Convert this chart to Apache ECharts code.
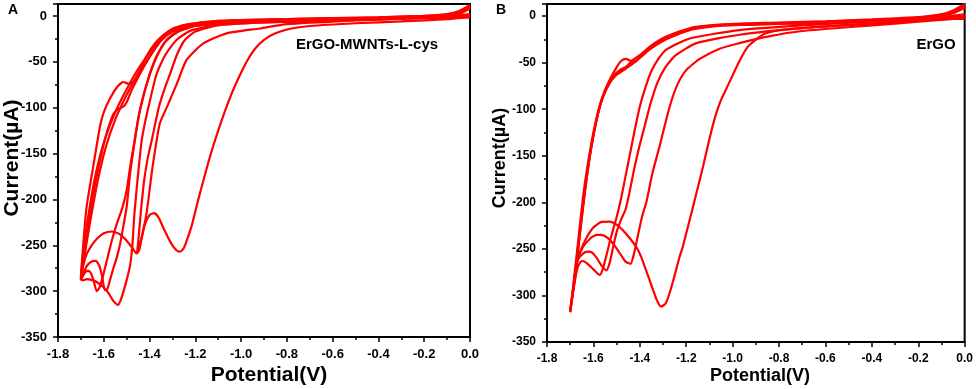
<!DOCTYPE html>
<html>
<head>
<meta charset="utf-8">
<script src="https://cdn.jsdelivr.net/npm/echarts@6/dist/echarts.min.js"></script>
<style>
  html, body { margin: 0; padding: 0; background: #fff; }
  #chart { width: 976px; height: 389px; }
</style>
</head>
<body>
<div id="chart"></div>
<script>
// potential (V), current (uA) pairs, one array per scan
var aCycle1 = [
  [0, 12], [-0.05, 5], [-0.1, 2], [-0.2, 0], [-0.4, -1.5], [-0.6, -2.5], [-0.8, -3.5], [-1.0, -4.5],
  [-1.1, -5.5], [-1.2, -8], [-1.25, -10], [-1.3, -14], [-1.34, -21], [-1.38, -31], [-1.42, -47],
  [-1.45, -63], [-1.47, -72], [-1.49, -74], [-1.515, -72], [-1.54, -77], [-1.573, -90], [-1.6, -105],
  [-1.617, -121], [-1.646, -164], [-1.675, -208], [-1.69, -250], [-1.7, -285],
  [-1.69, -272], [-1.675, -260], [-1.655, -251], [-1.63, -243], [-1.6, -237], [-1.565, -235],
  [-1.53, -238], [-1.5, -245], [-1.475, -253], [-1.456, -259], [-1.445, -255], [-1.435, -243],
  [-1.42, -227], [-1.4, -217], [-1.38, -215], [-1.36, -220], [-1.34, -231], [-1.31, -246],
  [-1.285, -255], [-1.267, -257], [-1.25, -253], [-1.235, -243], [-1.215, -228], [-1.187, -200],
  [-1.16, -175], [-1.132, -150], [-1.1, -125], [-1.065, -100], [-1.03, -78], [-0.976, -50],
  [-0.94, -36], [-0.9, -26], [-0.85, -19], [-0.786, -14], [-0.7, -11], [-0.5, -8], [-0.3, -6],
  [-0.1, -3.5], [-0.02, -2], [0, -2]
];
var aCycle2 = [
  [0, 10], [-0.05, 4], [-0.1, 1], [-0.2, -0.5], [-0.4, -2], [-0.6, -3], [-0.8, -4], [-1.0, -5],
  [-1.1, -6], [-1.2, -9], [-1.25, -12], [-1.3, -17], [-1.35, -27], [-1.4, -45], [-1.45, -67],
  [-1.48, -82], [-1.5, -94], [-1.515, -99], [-1.54, -102], [-1.56, -108], [-1.58, -122], [-1.6, -140],
  [-1.625, -168], [-1.65, -200], [-1.67, -235], [-1.688, -265], [-1.7, -288],
  [-1.69, -282], [-1.675, -273], [-1.655, -268], [-1.635, -267], [-1.62, -272], [-1.608, -283],
  [-1.595, -299], [-1.585, -298], [-1.573, -288], [-1.558, -275], [-1.544, -264], [-1.53, -250],
  [-1.515, -230], [-1.5, -208], [-1.485, -172], [-1.464, -135], [-1.44, -100], [-1.398, -63],
  [-1.36, -40], [-1.325, -26], [-1.28, -17], [-1.2, -11], [-1.0, -7], [-0.7, -5], [-0.4, -3],
  [-0.1, -1.5], [0, 0]
];
var aCycle3 = [
  [0, 9], [-0.05, 3], [-0.1, 0.5], [-0.2, -1], [-0.4, -2.5], [-0.6, -3.5], [-0.8, -4.5], [-1.0, -5.5],
  [-1.1, -6.5], [-1.2, -9], [-1.25, -11], [-1.3, -16], [-1.35, -26], [-1.4, -44], [-1.45, -63],
  [-1.5, -86], [-1.55, -113], [-1.59, -142], [-1.625, -178], [-1.655, -218], [-1.68, -255], [-1.7, -287],
  [-1.69, -283], [-1.68, -279], [-1.667, -278], [-1.655, -281], [-1.643, -290], [-1.631, -300],
  [-1.62, -297], [-1.605, -285], [-1.585, -265], [-1.565, -245], [-1.545, -228], [-1.52, -210],
  [-1.5, -190], [-1.482, -160], [-1.468, -140], [-1.448, -110], [-1.41, -72], [-1.37, -44],
  [-1.33, -28], [-1.28, -18], [-1.2, -11], [-1.0, -7], [-0.7, -5], [-0.4, -3], [-0.1, -1.5], [0, 1]
];
var aCycle4 = [
  [0, 11], [-0.05, 4], [-0.1, 1.5], [-0.2, 0], [-0.4, -1.5], [-0.6, -2.5], [-0.8, -3.5], [-1.0, -4.5],
  [-1.1, -5.5], [-1.2, -8], [-1.25, -10], [-1.3, -15], [-1.35, -24], [-1.4, -40], [-1.45, -58],
  [-1.5, -80], [-1.55, -105], [-1.6, -138], [-1.64, -178], [-1.67, -222], [-1.69, -258], [-1.7, -287],
  [-1.69, -288], [-1.675, -287], [-1.65, -288], [-1.631, -290], [-1.6, -296], [-1.58, -302],
  [-1.56, -310], [-1.545, -314], [-1.537, -315], [-1.525, -309], [-1.51, -297], [-1.497, -285],
  [-1.485, -272], [-1.475, -250], [-1.47, -230], [-1.466, -215], [-1.455, -185], [-1.445, -160],
  [-1.434, -135], [-1.41, -105], [-1.369, -63], [-1.33, -42], [-1.281, -26], [-1.22, -16],
  [-1.1, -10], [-0.9, -7], [-0.6, -5], [-0.3, -3], [-0.1, -1], [0, 1]
];
var aCycle5 = [
  [0, 8], [-0.05, 2], [-0.2, -2], [-0.5, -5], [-0.8, -9], [-0.918, -13.7], [-1.063, -19],
  [-1.165, -30], [-1.238, -48], [-1.281, -74], [-1.32, -97], [-1.355, -117], [-1.375, -145],
  [-1.391, -172], [-1.405, -200], [-1.415, -218], [-1.43, -236], [-1.445, -252], [-1.455, -259],
  [-1.449, -245], [-1.442, -225], [-1.436, -208], [-1.424, -180], [-1.408, -155], [-1.39, -135],
  [-1.36, -100], [-1.335, -80], [-1.31, -63], [-1.28, -42], [-1.245, -26], [-1.2, -17], [-1.1, -10],
  [-0.9, -7], [-0.6, -5], [-0.3, -3], [-0.1, -1], [0, 2]
];

var bCycle1 = [
  [0, 13], [-0.05, 6], [-0.1, 2], [-0.2, -1], [-0.4, -3.5], [-0.6, -5.5], [-0.8, -7], [-0.97, -8],
  [-1.1, -10], [-1.185, -13], [-1.286, -22], [-1.358, -33], [-1.4, -43], [-1.417, -49], [-1.44, -48],
  [-1.46, -46], [-1.48, -48], [-1.5, -55], [-1.525, -66], [-1.55, -80], [-1.575, -98], [-1.6, -125],
  [-1.625, -160], [-1.645, -195], [-1.665, -240], [-1.685, -285], [-1.7, -318],
  [-1.69, -300], [-1.68, -282], [-1.673, -268], [-1.655, -252], [-1.63, -238], [-1.6, -227],
  [-1.565, -221], [-1.53, -220.7], [-1.5, -224], [-1.473, -230], [-1.445, -238], [-1.415, -248],
  [-1.395, -258], [-1.379, -269], [-1.36, -282], [-1.343, -294], [-1.325, -306], [-1.308, -312],
  [-1.29, -309], [-1.279, -303], [-1.257, -285], [-1.228, -258], [-1.214, -247], [-1.171, -205],
  [-1.128, -162], [-1.1, -132], [-1.075, -108], [-1.05, -90], [-1.027, -78], [-0.97, -48],
  [-0.935, -33], [-0.898, -25], [-0.863, -19], [-0.8, -15], [-0.6, -11], [-0.4, -8], [-0.2, -5],
  [-0.05, -3], [0, -3]
];
var bCycle2 = [
  [0, 11], [-0.05, 5], [-0.1, 1.5], [-0.2, -1.5], [-0.4, -4], [-0.6, -6], [-0.8, -7.5], [-0.97, -8.5],
  [-1.1, -10.5], [-1.185, -14], [-1.286, -23], [-1.358, -34], [-1.4, -42], [-1.43, -47], [-1.46, -55],
  [-1.49, -60], [-1.52, -68], [-1.545, -78], [-1.57, -95], [-1.595, -122], [-1.62, -157], [-1.64, -192],
  [-1.66, -235], [-1.68, -280], [-1.7, -317],
  [-1.69, -298], [-1.68, -278], [-1.67, -262], [-1.645, -248], [-1.61, -238], [-1.585, -235],
  [-1.566, -235], [-1.54, -238], [-1.51, -246], [-1.48, -257], [-1.46, -264], [-1.44, -266],
  [-1.425, -255], [-1.405, -232], [-1.39, -215], [-1.372, -200], [-1.345, -168], [-1.315, -140],
  [-1.29, -115], [-1.265, -92], [-1.235, -72], [-1.2, -58], [-1.142, -46], [-1.056, -35],
  [-0.97, -29], [-0.85, -22], [-0.7, -16], [-0.4, -10], [-0.2, -6], [0, -2]
];
var bCycle3 = [
  [0, 10], [-0.05, 4], [-0.1, 1], [-0.2, -2], [-0.4, -4.5], [-0.6, -6.5], [-0.8, -8], [-0.97, -9],
  [-1.1, -11], [-1.185, -14.5], [-1.286, -24], [-1.358, -35], [-1.4, -44], [-1.44, -52], [-1.48, -57],
  [-1.51, -63], [-1.54, -74], [-1.565, -90], [-1.59, -115], [-1.615, -150], [-1.638, -190],
  [-1.658, -232], [-1.68, -280], [-1.7, -316],
  [-1.69, -298], [-1.68, -278], [-1.668, -262], [-1.645, -255], [-1.625, -253], [-1.605, -254],
  [-1.585, -260], [-1.565, -268], [-1.544, -273], [-1.53, -265], [-1.515, -248], [-1.5, -232],
  [-1.48, -218], [-1.462, -208], [-1.445, -190], [-1.425, -165], [-1.402, -140], [-1.379, -118],
  [-1.355, -95], [-1.325, -72], [-1.29, -55], [-1.245, -42], [-1.156, -29], [-0.97, -20],
  [-0.7, -13], [-0.4, -8], [-0.2, -4], [0, 2]
];
var bCycle4 = [
  [0, 9], [-0.05, 3], [-0.1, 0.5], [-0.2, -2.5], [-0.4, -5], [-0.6, -7], [-0.8, -8.5], [-0.97, -9.5],
  [-1.1, -11.5], [-1.185, -15], [-1.286, -25], [-1.358, -36], [-1.4, -45], [-1.44, -53], [-1.47, -58],
  [-1.5, -63], [-1.53, -72], [-1.56, -88], [-1.585, -110], [-1.61, -142], [-1.633, -182],
  [-1.655, -228], [-1.678, -278], [-1.7, -318],
  [-1.69, -300], [-1.678, -282], [-1.668, -270], [-1.655, -264], [-1.645, -263], [-1.625, -266],
  [-1.6, -272], [-1.573, -278], [-1.56, -272], [-1.545, -258], [-1.525, -238], [-1.5, -216],
  [-1.48, -195], [-1.46, -170], [-1.44, -145], [-1.42, -120], [-1.4, -97], [-1.375, -76],
  [-1.35, -59], [-1.32, -46], [-1.286, -36], [-1.185, -24], [-0.97, -15], [-0.7, -10],
  [-0.4, -6], [-0.2, -3], [0, 0]
];

var aCycles = [aCycle1, aCycle2, aCycle3, aCycle4, aCycle5];
var bCycles = [bCycle1, bCycle2, bCycle3, bCycle4];

var FONT = '"Liberation Sans", Arial, sans-serif';
var RED = '#ff0000';

function xAxisFor(idx, fs) {
  return {
    gridIndex: idx, type: 'value', min: -1.8, max: 0, interval: 0.2,
    axisLine: { show: true, onZero: false, lineStyle: { color: '#000', width: 2 } },
    axisTick: { show: true, length: 5, lineStyle: { color: '#000', width: 1.5 } },
    minorTick: { show: true, splitNumber: 2, length: 3, lineStyle: { color: '#000', width: 1.5 } },
    splitLine: { show: false },
    axisLabel: {
      color: '#000', fontWeight: 'bold', fontSize: fs, fontFamily: FONT, margin: 11,
      formatter: function (v) { return v.toFixed(1); }
    }
  };
}
function yAxisFor(idx, fs) {
  return {
    gridIndex: idx, type: 'value', min: -350, max: 13, interval: 50,
    axisLine: { show: true, onZero: false, lineStyle: { color: '#000', width: 2 } },
    axisTick: { show: true, length: 5, lineStyle: { color: '#000', width: 1.5 } },
    minorTick: { show: true, splitNumber: 2, length: 3, lineStyle: { color: '#000', width: 1.5 } },
    splitLine: { show: false },
    axisLabel: {
      color: '#000', fontWeight: 'bold', fontSize: fs, fontFamily: FONT, margin: 11,
      formatter: function (v) { return v % 50 === 0 ? String(v) : ''; }
    }
  };
}

var series = [];
aCycles.forEach(function (d) {
  series.push({ type: 'line', xAxisIndex: 0, yAxisIndex: 0, data: d, showSymbol: false,
    smooth: 0.2, lineStyle: { color: RED, width: 2.2 } });
});
bCycles.forEach(function (d) {
  series.push({ type: 'line', xAxisIndex: 1, yAxisIndex: 1, data: d, showSymbol: false,
    smooth: 0.2, lineStyle: { color: RED, width: 2.2 } });
});

function label(text, x, y, size, rot) {
  return {
    type: 'text', x: x, y: y, rotation: rot || 0, z: 100,
    style: {
      text: text, fill: '#000', font: 'bold ' + size + 'px ' + FONT,
      align: 'center', verticalAlign: 'middle', textAlign: 'center', textVerticalAlign: 'middle'
    }
  };
}

var myChart = echarts.init(document.getElementById('chart'), null, { renderer: 'canvas' });
myChart.setOption({
  animation: false,
  backgroundColor: '#fff',
  grid: [
    { left: 58, right: 506, top: 4, bottom: 52, show: true, borderColor: '#000', borderWidth: 2 },
    { left: 547, right: 11, top: 4, bottom: 47, show: true, borderColor: '#000', borderWidth: 2 }
  ],
  xAxis: [xAxisFor(0, 13), xAxisFor(1, 12)],
  yAxis: [yAxisFor(0, 13), yAxisFor(1, 12)],
  series: series,
  graphic: [
    label('A', 13, 10, 14),
    label('B', 501, 10, 14),
    label('ErGO-MWNTs-L-cys', 367, 45, 15),
    label('ErGO', 936, 45, 15),
    label('Potential(V)', 269, 375, 21),
    label('Current(µA)', 12, 158, 21, Math.PI / 2),
    label('Potential(V)', 760, 376, 18),
    label('Current(µA)', 500, 158, 18, Math.PI / 2)
  ]
});
window.addEventListener('resize', function () {
  myChart.resize();
});
</script>
</body>
</html>
